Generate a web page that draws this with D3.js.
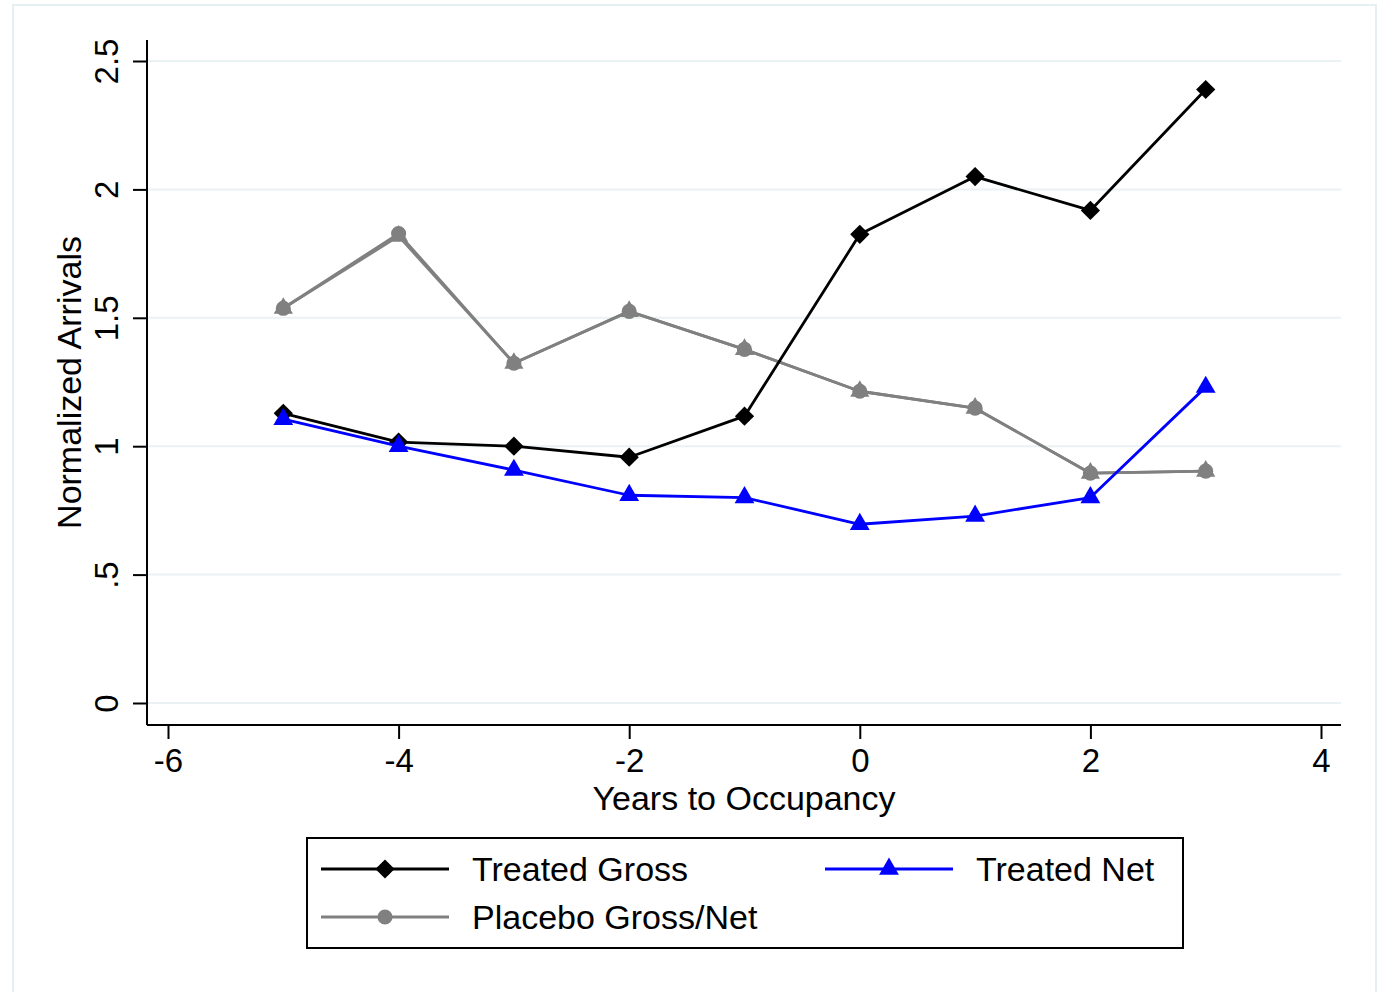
<!DOCTYPE html>
<html>
<head>
<meta charset="utf-8">
<script src="https://cdn.jsdelivr.net/npm/d3@7/dist/d3.min.js"></script>
<style>
  html, body { margin: 0; padding: 0; background: #fff; }
  svg { display: block; }
  text { font-family: "Liberation Sans", Arial, Helvetica, sans-serif; fill: #000; }
</style>
</head>
<body>
<svg id="chart" width="1382" height="992"></svg>
<script>
// Years relative to occupancy
const years = [-5, -4, -3, -2, -1, 0, 1, 2, 3];
// Normalized arrivals per series
const treatedGross = [1.128, 1.016, 1.000, 0.957, 1.117, 1.825, 2.050, 1.918, 2.389];
const treatedNet   = [1.105, 1.000, 0.907, 0.809, 0.800, 0.696, 0.728, 0.800, 1.230];
const placeboGross = [1.537, 1.828, 1.323, 1.525, 1.377, 1.214, 1.148, 0.895, 0.903];
const placeboNet   = [1.537, 1.818, 1.323, 1.525, 1.377, 1.214, 1.148, 0.895, 0.903];
// Axis ticks
const xTicks = [-6, -4, -2, 0, 2, 4];
const yTicks = [0, 0.5, 1, 1.5, 2, 2.5];
const yTickLabels = ["0", ".5", "1", "1.5", "2", "2.5"];

const svg = d3.select("#chart");

// outer graph region frame
svg.append("rect")
  .attr("x", 13).attr("y", 5).attr("width", 1363).attr("height", 1000)
  .attr("fill", "#fff").attr("stroke", "#e6eff1").attr("stroke-width", 2);

const plot = { left: 147, right: 1341, top: 40, bottom: 725 };

const x = d3.scaleLinear().domain([-6, 4]).range([168, 1321]);
const y = d3.scaleLinear().domain([0, 2.5]).range([703, 61]);

// horizontal gridlines
svg.append("g").selectAll("line").data(yTicks).join("line")
  .attr("x1", plot.left).attr("x2", plot.right)
  .attr("y1", d => y(d)).attr("y2", d => y(d))
  .attr("stroke", "#eaf2f3").attr("stroke-width", 2);

// y axis
const yAxis = svg.append("g")
  .attr("transform", `translate(${plot.left},0)`)
  .call(d3.axisLeft(y).tickValues(yTicks).tickSize(14).tickFormat((d, i) => yTickLabels[i]));
yAxis.select(".domain").attr("d", `M0,${plot.top}V${plot.bottom}`).attr("stroke", "#000").attr("stroke-width", 2);
yAxis.selectAll(".tick line").attr("stroke", "#000").attr("stroke-width", 2);
yAxis.selectAll(".tick text")
  .attr("x", null).attr("dy", null)
  .attr("transform", "translate(-29,0) rotate(-90)")
  .attr("text-anchor", "middle")
  .attr("font-size", 33)
  .attr("fill", "#000");

// x axis
const xAxis = svg.append("g")
  .attr("transform", `translate(0,${plot.bottom})`)
  .call(d3.axisBottom(x).tickValues(xTicks).tickSize(14).tickFormat(d3.format("d")));
xAxis.select(".domain").attr("d", `M${plot.left},0H${plot.right}`).attr("stroke", "#000").attr("stroke-width", 2);
xAxis.selectAll(".tick line").attr("stroke", "#000").attr("stroke-width", 2);
xAxis.selectAll(".tick text")
  .attr("y", 47).attr("dy", null)
  .attr("font-size", 33)
  .attr("fill", "#000")
  .text(d => (d < 0 ? "-" + Math.abs(d) : String(d)));

// axis titles
svg.append("text")
  .attr("x", 744).attr("y", 810)
  .attr("text-anchor", "middle").attr("font-size", 34)
  .text("Years to Occupancy");
svg.append("text")
  .attr("transform", `translate(81,${(plot.top + plot.bottom) / 2}) rotate(-90)`)
  .attr("text-anchor", "middle").attr("font-size", 34)
  .text("Normalized Arrivals");

const sym = {
  diamond: d3.symbol().type(d3.symbolSquare).size(185),
  triangle: d3.symbol().type(d3.symbolTriangle).size(170),
  circle: d3.symbol().type(d3.symbolCircle).size(180),
  triSmall: d3.symbol().type(d3.symbolTriangle).size(160)
};

const series = [
  { name: "Placebo Net", values: placeboNet, color: "#808080", shape: "triSmall", width: 2.8 },
  { name: "Placebo Gross/Net", values: placeboGross, color: "#808080", shape: "circle", width: 2.8 },
  { name: "Treated Gross", values: treatedGross, color: "#000000", shape: "diamond", width: 2.8 },
  { name: "Treated Net", values: treatedNet, color: "#0000ff", shape: "triangle", width: 2.8 }
];

const line = d3.line().x(d => x(d[0])).y(d => y(d[1]));

series.forEach(s => {
  const pts = years.map((yr, i) => [yr, s.values[i]]);
  svg.append("path").datum(pts)
    .attr("d", line).attr("fill", "none")
    .attr("stroke", s.color).attr("stroke-width", s.width)
    .attr("stroke-linejoin", "round");
  svg.append("g").selectAll("path").data(pts).join("path")
    .attr("d", sym[s.shape])
    .attr("transform", d => `translate(${x(d[0])},${y(d[1])})` + (s.shape === "diamond" ? " rotate(45)" : ""))
    .attr("fill", s.color);
});

// legend
const lg = svg.append("g");
lg.append("rect")
  .attr("x", 307).attr("y", 838).attr("width", 876).attr("height", 110)
  .attr("fill", "#fff").attr("stroke", "#000").attr("stroke-width", 2);

const legendItems = [
  { label: "Treated Gross", color: "#000000", shape: "diamond", lx: 321, ly: 869 },
  { label: "Treated Net", color: "#0000ff", shape: "triangle", lx: 825, ly: 869 },
  { label: "Placebo Gross/Net", color: "#808080", shape: "circle", lx: 321, ly: 917 }
];
legendItems.forEach(it => {
  lg.append("line")
    .attr("x1", it.lx).attr("x2", it.lx + 128)
    .attr("y1", it.ly).attr("y2", it.ly)
    .attr("stroke", it.color).attr("stroke-width", 2.8);
  lg.append("path")
    .attr("d", sym[it.shape])
    .attr("transform", `translate(${it.lx + 64},${it.ly})` + (it.shape === "diamond" ? " rotate(45)" : ""))
    .attr("fill", it.color);
  lg.append("text")
    .attr("x", it.lx + 151).attr("y", it.ly + 12)
    .attr("font-size", 34)
    .text(it.label);
});
</script>
</body>
</html>
